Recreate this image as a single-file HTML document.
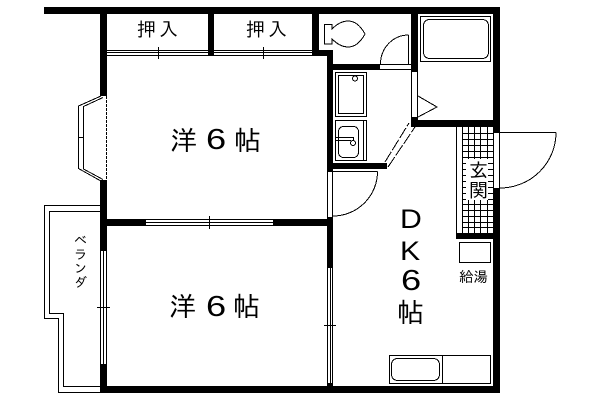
<!DOCTYPE html>
<html><head><meta charset="utf-8"><style>
html,body{margin:0;padding:0;background:#fff}
svg{display:block}
text{font-family:"Liberation Sans","IPAGothic","Noto Sans CJK JP",sans-serif;fill:#000}
.l{fill:none;stroke:#000;stroke-width:1;shape-rendering:crispEdges}
.c{fill:none;stroke:#000;stroke-width:1;shape-rendering:crispEdges}
</style></head><body>
<svg width="600" height="400" viewBox="0 0 600 400" xmlns="http://www.w3.org/2000/svg">
<g fill="#000" shape-rendering="crispEdges">
<rect x="44" y="7" width="456" height="7"/>
<rect x="100" y="14" width="7" height="82"/>
<rect x="100" y="180" width="7" height="71"/>
<rect x="100" y="364" width="7" height="29"/>
<rect x="100" y="386" width="400" height="7"/>
<rect x="208" y="14" width="6" height="42"/>
<rect x="312" y="14" width="7" height="42"/>
<rect x="312" y="50" width="21" height="6"/>
<rect x="327" y="50" width="6" height="122"/>
<rect x="327" y="217" width="6" height="51"/>
<rect x="327" y="383" width="6" height="4"/>
<rect x="107" y="219" width="39" height="7"/>
<rect x="273" y="219" width="54" height="7"/>
<rect x="333" y="64" width="47" height="6"/>
<rect x="411" y="14" width="7" height="58"/>
<rect x="411" y="117" width="7" height="10"/>
<rect x="411" y="120" width="89" height="7"/>
<rect x="493" y="7" width="7" height="126"/>
<rect x="493" y="188" width="7" height="205"/>
<rect x="456" y="233" width="44" height="6"/>
<rect x="332" y="163" width="55" height="6"/>
</g>
<!-- closet windows -->
<path class="l" d="M107 50.5H208M107 52.5H208M107 55.5H208M214 50.5H312M214 52.5H312M214 55.5H312M158.500 47V59M263.500 47V59"/>
<!-- bay window -->
<path class="c" d="M101 96L78.500 106V168.500L100 180.500M103 97.500L83.500 106.500V169L103 179.500"/>
<path class="l" d="M78 137.500H84"/>
<path class="l" stroke-dasharray="3 1" d="M106.500 96V180"/>
<!-- mid window -->
<path class="l" d="M146 219.500H273M146 222.500H273M146 225.500H273M209.500 216V229"/>
<!-- left window -->
<path class="l" d="M100.500 251V364M103.500 251V364M106.500 251V364M97 307.500H110"/>
<!-- right window -->
<path class="l" d="M327.500 268V383M330.500 268V383M332.500 268V383M324 325.500H336"/>
<!-- veranda -->
<path class="l" d="M100 205.500H44.500V318.500H58.500V392.500H100M100 211.500H49.500V313.500H63.500V386.500H100"/>
<!-- toilet -->
<path class="c" d="M332 29Q340 21 348 21Q358 21 365 34Q358 47 348 47Q340 47 332 39V44H324.500V24.500H332Z"/>
<!-- toilet door -->
<path class="l" d="M380 64.500H411M380 69.500H411M408.500 35V64"/>
<path class="c" d="M408.500 35A28 29 0 0 0 380.500 64"/>
<!-- bath -->
<rect class="l" x="420.500" y="16.500" width="70" height="45"/>
<rect class="c" x="423.500" y="19.500" width="65" height="39" rx="6"/>
<!-- bath door -->
<path class="l" d="M411.500 72V117M417.500 72V117"/>
<path class="c" d="M418 96L437 107L418 117"/>
<!-- washer -->
<rect class="l" x="335.500" y="72.500" width="31" height="44"/>
<rect class="l" x="338.500" y="75.500" width="25" height="38"/>
<circle class="c" cx="355" cy="78.500" r="2.500" fill="#fff"/>
<!-- sink -->
<rect class="l" x="335.500" y="120.500" width="31" height="40"/>
<path class="l" d="M363.500 120V161"/>
<rect class="c" x="338.500" y="126.500" width="20" height="31" rx="5"/>
<path class="l" d="M335 137.500H353M335 140.500H351M353.500 137V141"/>
<circle class="c" cx="353" cy="143" r="2.500" fill="#fff"/>
<!-- sliding door -->
<path class="c" stroke-dasharray="12 2" d="M385 162L409 123M388 167L415 127"/>
<!-- inner door -->
<path class="l" d="M327.500 172V217M332.500 172V217M333 171.500H377.500"/>
<path class="c" d="M377.500 171.500A44.500 44.500 0 0 1 333 216"/>
<!-- entry door -->
<path class="l" d="M493.500 133V188M499.500 133V188M500 132.500H556"/>
<path class="c" d="M556 132.500A56 55.500 0 0 1 500 188"/>
<!-- genkan -->
<path class="l" d="M456.500 127V233M462.500 127V233M468.500 127V233M474.500 127V233M480.500 127V233M487.500 127V233
M462 133.500H493M462 139.500H493M462 145.500H493M462 151.500H493M462 157.500H493M462 163.500H493M462 169.500H493M462 175.500H493M462 181.500H493M462 187.500H493M462 193.500H493M462 199.500H493M462 204.500H493M462 210.500H493M462 216.500H493M462 222.500H493M462 227.500H493"/>
<rect x="466" y="159" width="22" height="41" fill="#fff" shape-rendering="crispEdges"/>
<text x="469" y="177" font-size="19">玄</text>
<text x="469" y="197" font-size="19">関</text>
<!-- heater -->
<rect class="l" x="459.500" y="242.500" width="31" height="20"/>
<text x="459" y="282" font-size="14.500">給湯</text>
<!-- kitchen -->
<rect class="l" x="389.500" y="355.500" width="101" height="28"/>
<path class="l" d="M442.500 355V383"/>
<rect class="c" x="391.500" y="358.500" width="48" height="22" rx="6"/>
<!-- labels -->
<text x="137" y="36" font-size="19">押</text>
<text x="159" y="36" font-size="19">入</text>
<text x="246" y="36" font-size="19">押</text>
<text x="268" y="36" font-size="19">入</text>
<text x="170" y="150" font-size="27">洋</text>
<text transform="translate(206 149) scale(1.25 1)" font-size="29">6</text>
<text x="234" y="150" font-size="27">帖</text>
<text x="169" y="316" font-size="27">洋</text>
<text transform="translate(206 316) scale(1.25 1)" font-size="29">6</text>
<text x="233" y="316" font-size="27">帖</text>
<text transform="translate(400 228) scale(1.12 1)" font-size="27">D</text>
<text transform="translate(400 260) scale(1.12 1)" font-size="27">K</text>
<text transform="translate(401 290) scale(1.25 1)" font-size="29">6</text>
<text x="397" y="322" font-size="27">帖</text>
<text x="74" y="245" font-size="13">ベ</text>
<text x="74" y="259" font-size="13">ラ</text>
<text x="74" y="273" font-size="13">ン</text>
<text x="74" y="287" font-size="13">ダ</text>
</svg>
</body></html>
